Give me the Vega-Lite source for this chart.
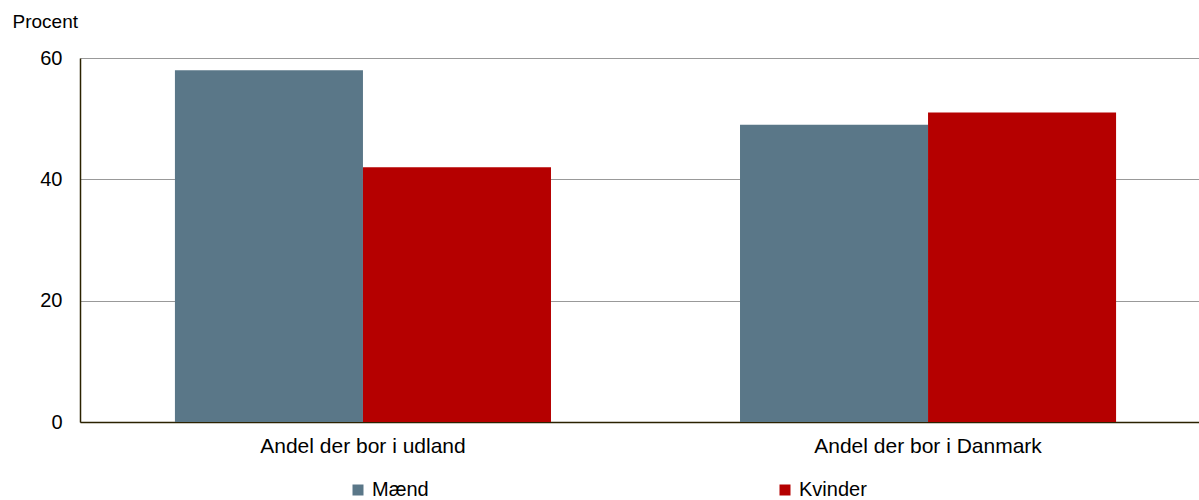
{
  "$schema": "https://vega.github.io/schema/vega-lite/v6.json",
  "autosize": "none",
  "width": 1131,
  "height": 364,
  "padding": {"left": 80, "top": 58, "right": 0, "bottom": 78},
  "background": "white",
  "config": {
    "font": "Liberation Sans",
    "view": {"stroke": null},
    "axis": {"labelFont": "Liberation Sans", "titleFont": "Liberation Sans"},
    "legend": {"labelFont": "Liberation Sans"}
  },
  "data": {
    "values": [
      {"kategori": "Andel der bor i udland", "køn": "Mænd", "pct": 58},
      {"kategori": "Andel der bor i udland", "køn": "Kvinder", "pct": 42},
      {"kategori": "Andel der bor i Danmark", "køn": "Mænd", "pct": 49},
      {"kategori": "Andel der bor i Danmark", "køn": "Kvinder", "pct": 51}
    ]
  },
  "mark": {"type": "bar"},
  "encoding": {
    "x": {
      "field": "kategori",
      "type": "nominal",
      "sort": ["Andel der bor i udland", "Andel der bor i Danmark"],
      "scale": {"paddingInner": 0.3345, "paddingOuter": 0.168},
      "axis": {
        "title": null,
        "labelAngle": 0,
        "labelFontSize": 21,
        "labelLimit": 0,
        "labelColor": "#000000",
        "labelPadding": 13,
        "ticks": false,
        "domainColor": "#2b2200",
        "domainWidth": 1.5
      }
    },
    "xOffset": {"field": "køn", "type": "nominal", "sort": ["Mænd", "Kvinder"]},
    "y": {
      "field": "pct",
      "type": "quantitative",
      "scale": {"domain": [0, 60]},
      "axis": {
        "title": "Procent",
        "titleAngle": 0,
        "titleAlign": "left",
        "titleBaseline": "middle",
        "titleX": -68,
        "titleY": -37,
        "titleFontSize": 19,
        "titleFontWeight": "normal",
        "titleColor": "#000000",
        "values": [0, 20, 40, 60],
        "labelFontSize": 20,
        "labelColor": "#000000",
        "labelPadding": 18,
        "ticks": false,
        "grid": true,
        "gridColor": "#999999",
        "domainColor": "#2b2200",
        "domainWidth": 1.5
      }
    },
    "color": {
      "field": "køn",
      "type": "nominal",
      "sort": ["Mænd", "Kvinder"],
      "scale": {"domain": ["Mænd", "Kvinder"], "range": ["#5a7788", "#b50000"]},
      "legend": {
        "title": null,
        "orient": "none",
        "direction": "horizontal",
        "legendX": 268,
        "legendY": 422,
        "symbolType": "square",
        "symbolSize": 121,
        "symbolStrokeWidth": 0,
        "symbolOpacity": 1,
        "labelFontSize": 20,
        "labelColor": "#000000",
        "labelOffset": 4,
        "columnPadding": 346
      }
    }
  }
}
